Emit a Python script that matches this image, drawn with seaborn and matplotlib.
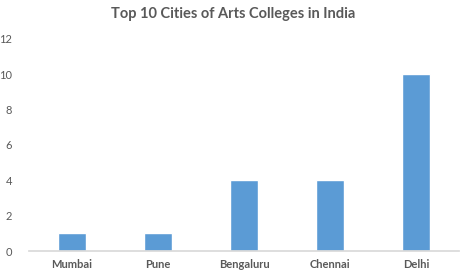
import matplotlib
matplotlib.use("Agg")
import matplotlib.pyplot as plt
import seaborn as sns
import pandas as pd

cities = ["Mumbai", "Pune", "Bengaluru", "Chennai", "Delhi"]
counts = [1, 1, 4, 4, 10]
yticks = [0, 2, 4, 6, 8, 10, 12]
title = "Top 10 Cities of Arts Colleges in India"

sns.set_theme(style="white")
plt.rcParams["font.family"] = ["Lato", "DejaVu Sans"]

df = pd.DataFrame({"city": cities, "count": counts})
fig = plt.figure(figsize=(4.67, 2.78), dpi=100)
ax = fig.add_axes([0.062, 0.097, 0.921, 0.763])
sns.barplot(data=df, x="city", y="count", color="#5B9BD5", width=0.33, ax=ax, saturation=1)
ax.set_ylim(0, 12)
ax.set_yticks(yticks)
ax.set_xlabel("")
ax.set_ylabel("")
for s in ["top", "right", "left"]:
    ax.spines[s].set_visible(False)
ax.spines["bottom"].set_color("#D9D9D9")
ax.tick_params(axis="both", length=0, labelsize=8, labelcolor="#595959")
ax.tick_params(axis="x", pad=6)
ax.tick_params(axis="y", pad=12)
for lbl in ax.get_xticklabels():
    lbl.set_fontweight("bold")
fig.suptitle(title, x=0.5, y=0.975, fontsize=10.5, fontweight="bold", color="#595959")
fig.savefig("out.png", dpi=100)
